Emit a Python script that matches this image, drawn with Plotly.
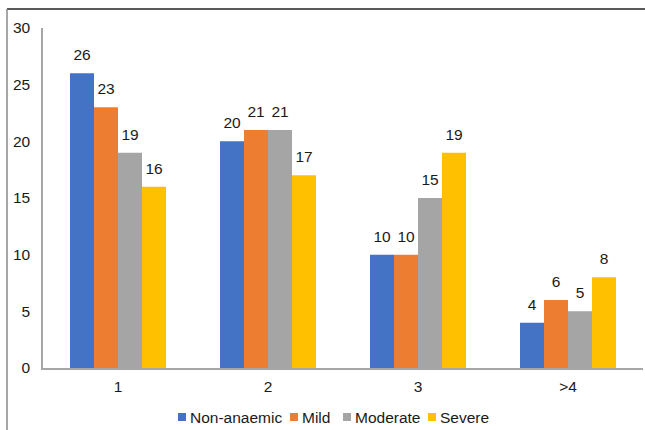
import plotly.graph_objects as go

categories = ["1", "2", "3", ">4"]
series_names = ["Non-anaemic", "Mild", "Moderate", "Severe"]
non_anaemic = [26, 20, 10, 4]
mild = [23, 21, 10, 6]
moderate = [19, 21, 15, 5]
severe = [16, 17, 19, 8]
colors = ["#4472C4", "#ED7D31", "#A5A5A5", "#FFC000"]

W, H = 645, 430
L, R, T, B = 43, 2, 28, 62
pw, ph = W - L - R, H - T - B
FONT = "Liberation Sans, Arial"
FS = 15.5
TXT = "#1a1a1a"

fig = go.Figure()
all_vals = [non_anaemic, mild, moderate, severe]
for i, (name, vals, c) in enumerate(zip(series_names, all_vals, colors)):
    fig.add_trace(go.Bar(
        x=categories, y=vals, name=name, offsetgroup=str(i),
        marker=dict(color=c, line=dict(width=0)), showlegend=False,
    ))
for i, (name, vals) in enumerate(zip(series_names, all_vals)):
    fig.add_trace(go.Scatter(
        x=categories, y=vals, offsetgroup=str(i), mode="markers+text",
        marker=dict(size=13, opacity=0), text=[str(v) for v in vals],
        textposition="top center", cliponaxis=False, showlegend=False,
        hoverinfo="skip", textfont=dict(size=FS, color=TXT, family=FONT),
    ))


def px_x(p):
    return (p - L) / pw


def px_y(p):
    return (H - B - p) / ph


shapes = [
    dict(type="line", xref="paper", yref="paper", x0=px_x(7), x1=px_x(646),
         y0=px_y(9), y1=px_y(9), line=dict(color="#222222", width=1.5)),
    dict(type="line", xref="paper", yref="paper", x0=px_x(7), x1=px_x(7),
         y0=px_y(9), y1=px_y(431), line=dict(color="#888888", width=1.5)),
]
annotations = []
legend_sq_x = [178, 290, 343, 428]
ly = 417
for name, c, sx in zip(series_names, colors, legend_sq_x):
    shapes.append(dict(type="rect", xref="paper", yref="paper",
                       x0=px_x(sx), x1=px_x(sx + 8), y0=px_y(ly - 4), y1=px_y(ly + 4),
                       fillcolor=c, line=dict(width=0)))
    annotations.append(dict(xref="paper", yref="paper", x=px_x(sx + 9.5), y=px_y(ly),
                            xanchor="left", yanchor="middle", text=name, showarrow=False,
                            font=dict(size=FS, color=TXT, family=FONT)))

fig.update_layout(
    width=W, height=H,
    margin=dict(l=L, r=R, t=T, b=B),
    paper_bgcolor="white", plot_bgcolor="white",
    barmode="group", bargap=0.36, bargroupgap=0,
    scattermode="group", scattergap=0.36,
    font=dict(family=FONT, size=FS, color=TXT),
    showlegend=False,
    xaxis=dict(showline=True, linecolor="#A6A6A6", linewidth=1.5, ticks="outside",
               ticklen=4, tickcolor="rgba(0,0,0,0)", tickfont=dict(size=FS)),
    yaxis=dict(range=[0, 30], dtick=5, showline=True, linecolor="#A6A6A6", linewidth=1.5,
               showgrid=False, zeroline=False, ticks="outside", ticklen=8,
               tickcolor="rgba(0,0,0,0)", tickfont=dict(size=FS)),
    shapes=shapes,
    annotations=annotations,
)

fig.write_html("out.html")
